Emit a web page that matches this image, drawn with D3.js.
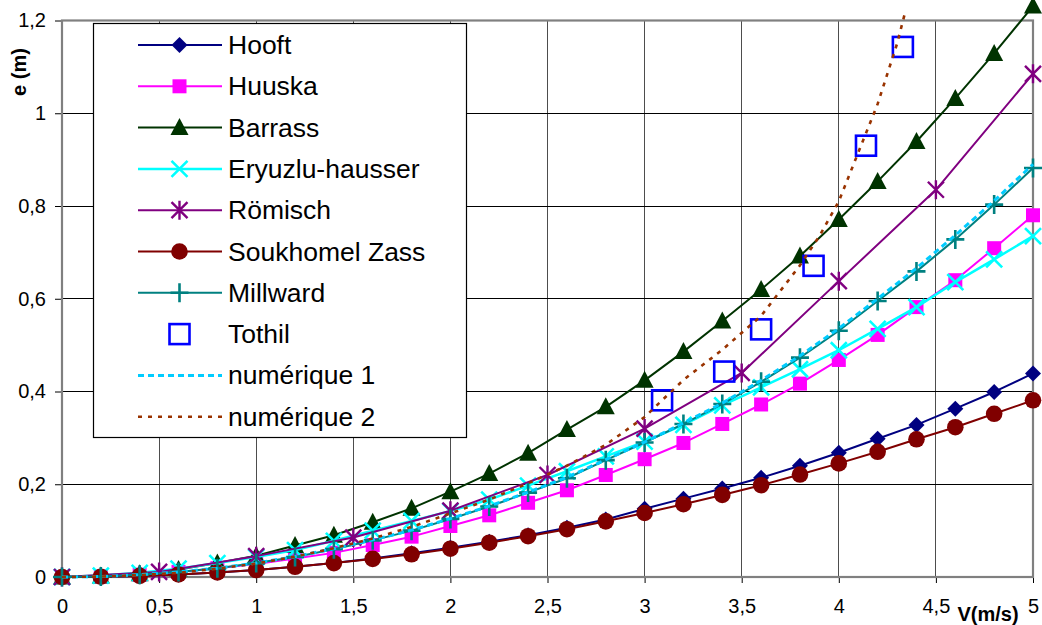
<!DOCTYPE html>
<html>
<head>
<meta charset="utf-8">
<script src="https://cdn.jsdelivr.net/npm/d3@7"></script>
<style>
  html, body { margin: 0; padding: 0; background: #fff; }
  svg { display: block; font-family: "Liberation Sans", Arial, sans-serif; }
</style>
</head>
<body>
<svg id="chart" width="1042" height="625"></svg>
<script>
// ---------------- DATA ----------------
const V = [0, 0.2, 0.4, 0.6, 0.8, 1.0, 1.2, 1.4, 1.6, 1.8, 2.0, 2.2, 2.4, 2.6, 2.8, 3.0,
           3.2, 3.4, 3.6, 3.8, 4.0, 4.2, 4.4, 4.6, 4.8, 5.0];
const hooft = [0, 0.0006, 0.0024, 0.0054, 0.0096, 0.015, 0.022, 0.030, 0.040, 0.051, 0.063,
               0.076, 0.090, 0.106, 0.124, 0.147, 0.169, 0.191, 0.214, 0.240, 0.268, 0.298,
               0.328, 0.363, 0.399, 0.439];
const huuska = [0, 0.001, 0.005, 0.011, 0.019, 0.028, 0.040, 0.052, 0.069, 0.087, 0.110,
                0.133, 0.160, 0.187, 0.220, 0.254, 0.289, 0.330, 0.372, 0.417, 0.468, 0.522,
                0.582, 0.640, 0.709, 0.780];
const barrass = [0, 0.002, 0.007, 0.016, 0.030, 0.046, 0.068, 0.090, 0.118, 0.148, 0.184,
                 0.223, 0.267, 0.318, 0.367, 0.424, 0.486, 0.552, 0.620, 0.692, 0.771, 0.853,
                 0.939, 1.032, 1.129, 1.231];
const eryuzlu = [0, 0.003, 0.009, 0.018, 0.030, 0.043, 0.058, 0.078, 0.100, 0.121, 0.142,
                 0.167, 0.197, 0.228, 0.260, 0.292, 0.328, 0.370, 0.409, 0.448, 0.489, 0.535,
                 0.582, 0.636, 0.685, 0.735];
const soukhomel = [0, 0.0006, 0.0024, 0.0055, 0.0098, 0.015, 0.022, 0.030, 0.039, 0.049, 0.061,
                   0.074, 0.088, 0.103, 0.120, 0.138, 0.157, 0.177, 0.198, 0.221, 0.245, 0.270,
                   0.297, 0.323, 0.352, 0.381];
const millward = [0, 0.001, 0.005, 0.011, 0.019, 0.030, 0.043, 0.060, 0.079, 0.100, 0.125,
                  0.152, 0.182, 0.213, 0.252, 0.290, 0.330, 0.373, 0.421, 0.473, 0.531, 0.595,
                  0.659, 0.728, 0.803, 0.882];
const numerique1 = [0, 0.001, 0.005, 0.011, 0.019, 0.030, 0.044, 0.061, 0.080, 0.101, 0.126,
                    0.153, 0.183, 0.215, 0.253, 0.291, 0.332, 0.375, 0.424, 0.477, 0.536, 0.600,
                    0.666, 0.737, 0.811, 0.890];
const V_romisch = [0, 0.5, 1.0, 1.5, 2.0, 2.5, 3.0, 3.5, 4.0, 4.5, 5.0];
const romisch = [0, 0.011, 0.045, 0.085, 0.143, 0.220, 0.320, 0.440, 0.638, 0.835, 1.085];
const V_tothil = [3.09, 3.41, 3.60, 3.87, 4.14, 4.33];
const tothil = [0.381, 0.443, 0.534, 0.671, 0.930, 1.143];
const V_num2 = [0, 0.2, 0.4, 0.6, 0.8, 1.0, 1.2, 1.4, 1.6, 1.8, 2.0, 2.2, 2.4, 2.6, 2.8, 3.0,
                3.2, 3.4, 3.6, 3.8, 3.9, 4.0, 4.1, 4.2, 4.3, 4.34];
const numerique2 = [0, 0.001, 0.004, 0.009, 0.018, 0.029, 0.044, 0.062, 0.083, 0.108, 0.137,
                    0.167, 0.202, 0.240, 0.285, 0.345, 0.425, 0.490, 0.563, 0.672, 0.735, 0.810,
                    0.915, 1.020, 1.150, 1.215];
const xTicks = [0, 0.5, 1, 1.5, 2, 2.5, 3, 3.5, 4, 4.5, 5];
const yTicks = [0, 0.2, 0.4, 0.6, 0.8, 1.0, 1.2];
const legendNames = ["Hooft", "Huuska", "Barrass", "Eryuzlu-hausser", "Römisch",
                     "Soukhomel Zass", "Millward", "Tothil", "numérique 1", "numérique 2"];

// ---------------- SETUP ----------------
const svg = d3.select("#chart");
const L = 62, R = 1033, T = 20.5, B = 577;
const x = d3.scaleLinear().domain([0, 5]).range([L, R]);
const y = d3.scaleLinear().domain([0, 1.2]).range([B, T]);
const fmt = d => String(+d.toFixed(1)).replace(".", ",");

// grid lines
svg.append("g").selectAll("line").data(xTicks.slice(1, -1)).join("line")
  .attr("x1", d => x(d)).attr("x2", d => x(d)).attr("y1", T).attr("y2", B)
  .attr("stroke", "#4d4d4d").attr("stroke-width", 1).attr("shape-rendering", "crispEdges");
svg.append("g").selectAll("line").data(yTicks.slice(1, -1)).join("line")
  .attr("x1", L).attr("x2", R).attr("y1", d => y(d)).attr("y2", d => y(d))
  .attr("stroke", "#000").attr("stroke-width", 1).attr("shape-rendering", "crispEdges");

// axes
const xAxis = svg.append("g").attr("transform", `translate(0,${B})`)
  .call(d3.axisBottom(x).tickValues(xTicks).tickFormat(fmt).tickSize(6).tickPadding(16));
const yAxis = svg.append("g").attr("transform", `translate(${L},0)`)
  .call(d3.axisLeft(y).tickValues(yTicks).tickFormat(fmt).tickSize(7).tickPadding(9));
[xAxis, yAxis].forEach(a => {
  a.select(".domain").remove();
  a.selectAll("text").attr("font-size", 20).attr("fill", "#000")
    .attr("font-family", "'Liberation Sans', Arial, sans-serif");
  a.selectAll("line").attr("stroke", "#000");
});

// plot frame
svg.append("rect").attr("x", L).attr("y", T).attr("width", R - L).attr("height", B - T)
  .attr("fill", "none").attr("stroke", "#808080").attr("stroke-width", 2.2);

// axis titles
svg.append("text").attr("x", 988).attr("y", 621).attr("text-anchor", "middle")
  .attr("font-size", 20).attr("font-weight", "bold").text("V(m/s)");
svg.append("text").attr("transform", "translate(26,72) rotate(-90)").attr("text-anchor", "middle")
  .attr("font-size", 20).attr("font-weight", "bold").text("e (m)");

// ---------------- MARKERS ----------------
function drawMarker(g, type, color, cx, cy) {
  const s = g.append("g").attr("transform", `translate(${cx},${cy})`);
  if (type === "diamond") {
    s.append("path").attr("d", "M0,-8L8,0L0,8L-8,0Z").attr("fill", color);
  } else if (type === "square") {
    s.append("rect").attr("x", -7).attr("y", -7).attr("width", 14).attr("height", 14).attr("fill", color);
  } else if (type === "triangle") {
    s.append("path").attr("d", "M0,-9.5L9,7.5L-9,7.5Z").attr("fill", color);
  } else if (type === "x") {
    s.append("path").attr("d", "M-8,-8L8,8M-8,8L8,-8")
      .attr("stroke", color).attr("stroke-width", 2.6).attr("fill", "none");
  } else if (type === "star") {
    s.append("path").attr("d", "M-8,-8L8,8M-8,8L8,-8M0,-9.5L0,9.5")
      .attr("stroke", color).attr("stroke-width", 2.4).attr("fill", "none");
  } else if (type === "circle") {
    s.append("circle").attr("r", 8.3).attr("fill", color);
  } else if (type === "plus") {
    s.append("path").attr("d", "M-9,0L9,0M0,-9.5L0,9.5")
      .attr("stroke", color).attr("stroke-width", 2.6).attr("fill", "none");
  } else if (type === "openSquare") {
    s.append("rect").attr("x", -10).attr("y", -10).attr("width", 20).attr("height", 20)
      .attr("fill", "none").attr("stroke", color).attr("stroke-width", 2.6);
  }
}

const series = [
  { name: legendNames[0], xs: V, ys: hooft, color: "#000080", marker: "diamond", line: true, width: 2 },
  { name: legendNames[1], xs: V, ys: huuska, color: "#FF00FF", marker: "square", line: true, width: 2 },
  { name: legendNames[2], xs: V, ys: barrass, color: "#003300", marker: "triangle", line: true, width: 2 },
  { name: legendNames[3], xs: V, ys: eryuzlu, color: "#00FFFF", marker: "x", line: true, width: 2.5 },
  { name: legendNames[4], xs: V_romisch, ys: romisch, color: "#800080", marker: "star", line: true, width: 2 },
  { name: legendNames[5], xs: V, ys: soukhomel, color: "#800000", marker: "circle", line: true, width: 2 },
  { name: legendNames[6], xs: V, ys: millward, color: "#008080", marker: "plus", line: true, width: 2 },
  { name: legendNames[7], xs: V_tothil, ys: tothil, color: "#0000FF", marker: "openSquare", line: false },
  { name: legendNames[8], xs: V, ys: numerique1, color: "#00CCFF", marker: null, line: true, width: 3, dash: "6,4" },
  { name: legendNames[9], xs: V_num2, ys: numerique2, color: "#993300", marker: null, line: true, width: 2.6, dash: "4,6" }
];

const lineGen = d3.line().x(d => x(d[0])).y(d => y(d[1]));
const plot = svg.append("g");
series.forEach(s => {
  const pts = s.xs.map((v, i) => [v, s.ys[i]]);
  const g = plot.append("g");
  if (s.line) {
    g.append("path").datum(pts).attr("d", lineGen).attr("fill", "none")
      .attr("stroke", s.color).attr("stroke-width", s.width)
      .attr("stroke-dasharray", s.dash || null).attr("stroke-linejoin", "round");
  }
  if (s.marker) pts.forEach(p => drawMarker(g, s.marker, s.color, x(p[0]), y(p[1])));
});

// ---------------- LEGEND ----------------
const lg = svg.append("g");
lg.append("rect").attr("x", 93.5).attr("y", 23.5).attr("width", 373).attr("height", 414)
  .attr("fill", "#fff").attr("stroke", "#000").attr("stroke-width", 1.2);
series.forEach((s, i) => {
  const cy = 45 + i * 41.3;
  if (s.line) {
    lg.append("line").attr("x1", 138).attr("x2", 222).attr("y1", cy).attr("y2", cy)
      .attr("stroke", s.color).attr("stroke-width", s.width)
      .attr("stroke-dasharray", s.dash || null);
  }
  if (s.marker) drawMarker(lg, s.marker, s.color, 179.5, cy);
  lg.append("text").attr("x", 228).attr("y", cy + 9).attr("font-size", 26.5)
    .attr("fill", "#000").text(s.name);
});
</script>
</body>
</html>
